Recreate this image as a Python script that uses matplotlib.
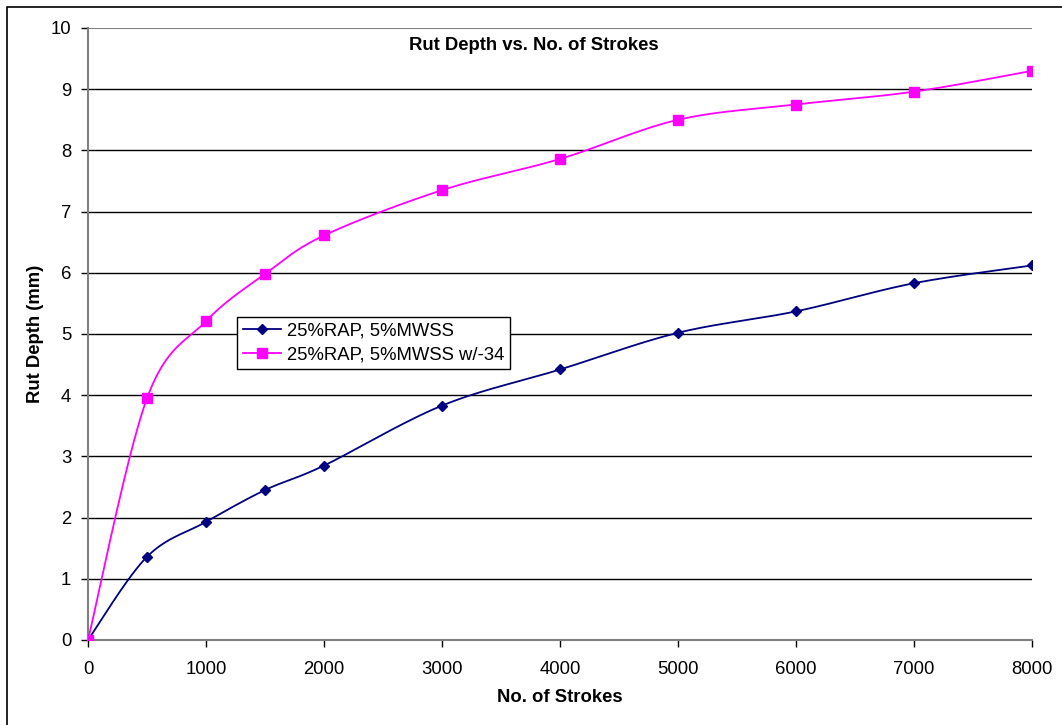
import numpy as np
import matplotlib
matplotlib.use("Agg")
from matplotlib import pyplot as plt
from matplotlib.patches import Rectangle

plt.rcParams["font.family"] = ["Liberation Sans", "DejaVu Sans"]

# ── Data ──────────────────────────────────────────────────────────────────────
strokes = [0, 500, 1000, 1500, 2000, 3000, 4000, 5000, 6000, 7000, 8000]
rut_mwss = [0, 1.36, 1.93, 2.45, 2.85, 3.83, 4.42, 5.02, 5.37, 5.83, 6.12]
rut_mwss_34 = [0, 3.95, 5.21, 5.98, 6.61, 7.35, 7.86, 8.50, 8.75, 8.96, 9.30]
labels = ["25%RAP, 5%MWSS", "25%RAP, 5%MWSS w/-34"]
x_ticks = [0, 1000, 2000, 3000, 4000, 5000, 6000, 7000, 8000]
y_ticks = list(range(0, 11))

W, H = 1062, 725
L, R, B, T = 88, 1032, 640, 28
FS = 13.3


def smooth(xs, ys, sx, sy, n=30):
    # Excel-style smoothed line: Catmull-Rom bezier computed in pixel space
    p = np.column_stack([np.asarray(xs) * sx, np.asarray(ys) * sy])
    out = [p[0]]
    for i in range(len(p) - 1):
        p0 = p[i - 1] if i > 0 else p[i]
        p3 = p[i + 2] if i + 2 < len(p) else p[i + 1]
        p1, p2 = p[i], p[i + 1]
        c1 = p1 + (p2 - p0) / 6
        c2 = p2 - (p3 - p1) / 6
        t = np.linspace(0, 1, n)[1:, None]
        seg = ((1 - t) ** 3) * p1 + 3 * ((1 - t) ** 2) * t * c1 + 3 * (1 - t) * t ** 2 * c2 + t ** 3 * p2
        out.extend(seg)
    out = np.array(out)
    return out[:, 0] / sx, out[:, 1] / sy


fig = plt.figure(figsize=(W / 100, H / 100), dpi=100)
ax = fig.add_axes([L / W, 1 - B / H, (R - L) / W, (B - T) / H])

# outer chart border (right/bottom edges fall outside the image)
fig.patches.append(Rectangle((7 / W, -0.1), 1.2, 1 - 7 / H + 0.1, transform=fig.transFigure,
                             fill=False, edgecolor="black", linewidth=1.2))

sx = (R - L) / 8000
sy = (B - T) / 10
series = [(rut_mwss, "#000080", "D", 5.5), (rut_mwss_34, "#FF00FF", "s", 6.5)]
for (vals, col, mk, ms), lab in zip(series, labels):
    xs, ys = smooth(strokes, vals, sx, sy)
    ax.plot(xs, ys, color=col, linewidth=1.3, zorder=3)
    ax.plot(strokes, vals, linestyle="none", marker=mk, markersize=ms, color=col, zorder=4)
    ax.plot([], [], color=col, linewidth=1.3, marker=mk, markersize=ms, label=lab)

ax.set_xlim(0, 8000)
ax.set_ylim(0, 10)
ax.set_xticks(x_ticks)
ax.set_yticks(y_ticks)
for v in y_ticks[1:-1]:
    ax.axhline(v, color="black", linewidth=1, zorder=1)
ax.axhline(10, color="#808080", linewidth=1.5, zorder=1)

for s in ["top", "right"]:
    ax.spines[s].set_visible(False)
for s in ["left", "bottom"]:
    ax.spines[s].set_color("#808080")
    ax.spines[s].set_linewidth(1.5)
ax.tick_params(colors="black", labelsize=FS, length=5, width=1, direction="out")
ax.tick_params(axis="x", pad=10)
ax.tick_params(axis="y", pad=7)

fig.text(560 / W, 1 - 698 / H, "No. of Strokes", ha="center", va="center",
         fontsize=FS, fontweight="bold")
fig.text(35 / W, 1 - 334 / H, "Rut Depth (mm)", ha="center", va="center",
         rotation=90, fontsize=FS, fontweight="bold")
fig.text(534 / W, 1 - 45 / H, "Rut Depth vs. No. of Strokes", ha="center", va="center",
         fontsize=FS, fontweight="bold")

leg = ax.legend(loc="upper left", bbox_to_anchor=((237 - L) / (R - L), (B - 317) / (B - T)),
                fontsize=FS, frameon=True, fancybox=False, framealpha=1,
                borderpad=0.3, handlelength=2.1, labelspacing=0.4, handletextpad=0.3,
                borderaxespad=0)
leg.get_frame().set_edgecolor("black")
leg.get_frame().set_linewidth(1)

plt.savefig("out.png", dpi=100)
plt.close()
